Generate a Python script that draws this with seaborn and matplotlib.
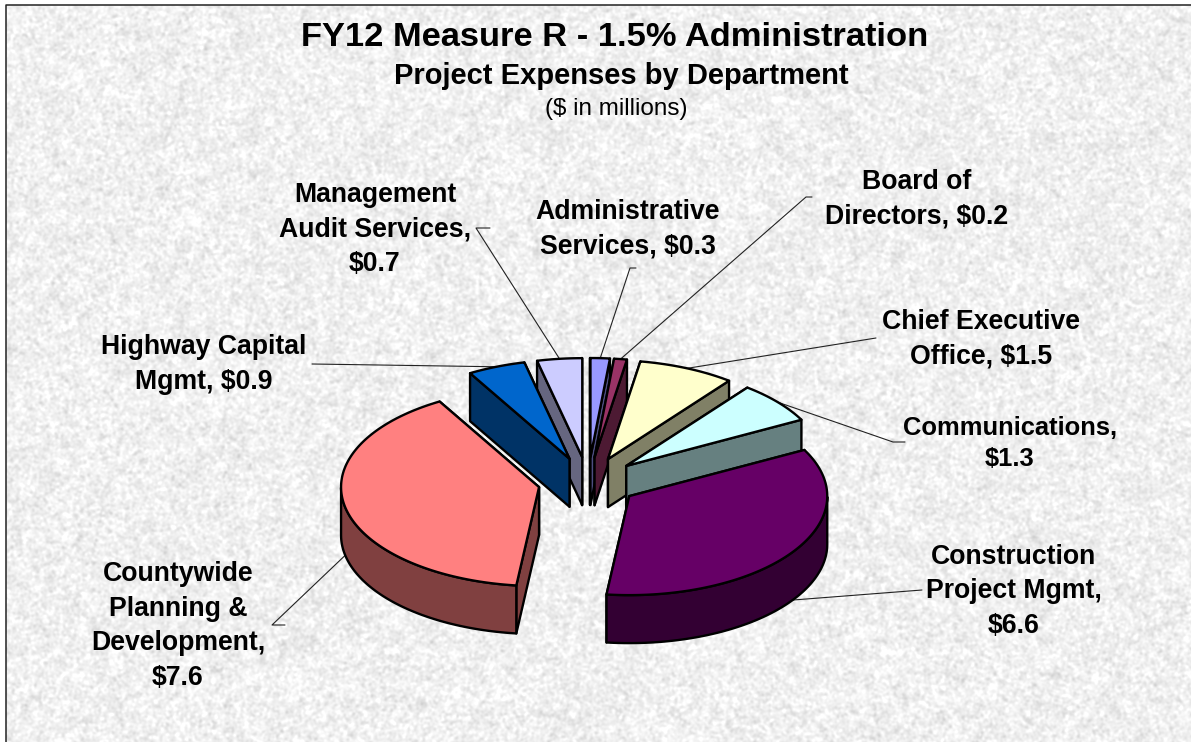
import numpy as np
import matplotlib
matplotlib.use("Agg")
import matplotlib.pyplot as plt
import seaborn as sns

# ---- data ----
departments = ["Administrative Services", "Board of Directors", "Chief Executive Office",
               "Communications", "Construction Project Mgmt",
               "Countywide Planning & Development", "Highway Capital Mgmt",
               "Management Audit Services"]
expenses = [0.3, 0.2, 1.5, 1.3, 6.6, 7.6, 0.9, 0.7]
labels = ["Administrative\nServices, $0.3", "Board of\nDirectors, $0.2",
          "Chief Executive\nOffice, $1.5", "Communications,\n$1.3",
          "Construction\nProject Mgmt,\n$6.6", "Countywide\nPlanning &\nDevelopment,\n$7.6",
          "Highway Capital\nMgmt, $0.9", "Management\nAudit Services,\n$0.7"]
colors = ["#9999FF", "#993366", "#FFFFCC", "#CCFFFF", "#660066", "#FF8080", "#0066CC", "#CCCCFF"]

# ---- layout ----
label_xy = [(628, 229.5), (917, 199.5), (981, 339.5), (1010, 443.5), (1014, 591.5), (178, 626), (204, 364.5), (375, 229.5)]
label_size = [19.2, 19.2, 19.2, 18.4, 19.2, 19.2, 19.2, 19.2]
leader_elbows = [[(636, 268), (630, 268)], [(812, 197), (806, 197)], [(876, 338)], [(905, 442), (893, 442)],
                 [(922, 590)], [(285, 625), (272, 625)], [(312, 364)], [(490, 228), (476, 228)]]
CX, CY, RX, RY, EXPLODE, DEPTH = 588, 482, 198, 99, 50, 48
EXPLODE_Y = 0.5

sns.set_theme(style="white")
plt.rcParams["font.family"] = ["Liberation Sans", "DejaVu Sans"]

fig = plt.figure(figsize=(11.91, 7.42), dpi=100, facecolor="white")
ax = fig.add_axes([0, 0, 1, 1])
ax.set_xlim(0, 1191)
ax.set_ylim(742, 0)
ax.axis("off")

# granite-like backdrop texture (decoration only, no data)
rng = np.random.default_rng(12)
h, w = 737, 1185


def smooth(sigma):
    fy = np.fft.fftfreq(h)[:, None]
    fx = np.fft.rfftfreq(w)[None, :]
    g = np.exp(-2 * (np.pi * sigma) ** 2 * (fx ** 2 + fy ** 2))
    a = np.fft.irfft2(np.fft.rfft2(rng.normal(size=(h, w))) * g, s=(h, w))
    return a / a.std()


tex = 240 + 7.5 * smooth(1.2) + 2.5 * smooth(4)
ax.imshow(np.clip(tex, 190, 255), cmap="gray", vmin=0, vmax=255, extent=(6, 1191, 742, 5),
          aspect="auto", zorder=0, interpolation="bilinear")
ax.set_xlim(0, 1191)
ax.set_ylim(742, 0)
ax.plot([6, 6, 1191], [742, 5, 5], color="#222222", lw=1.1, zorder=1)

# ---- pie geometry from the values ----
vals = np.array(expenses)
edges = np.concatenate([[0], np.cumsum(vals)]) / vals.sum() * 2 * np.pi
mids = (edges[:-1] + edges[1:]) / 2


def rim(i, t):
    ox = CX + EXPLODE * np.sin(mids[i])
    oy = CY - EXPLODE * EXPLODE_Y * np.cos(mids[i])
    return ox + RX * np.sin(t), oy - RY * np.cos(t)


# leader lines
for i in range(len(vals)):
    x, y = rim(i, mids[i])
    if np.cos(mids[i]) < 0:
        y = y + DEPTH
    pts = leader_elbows[i] + [(x, y)]
    ax.plot([p[0] for p in pts], [p[1] for p in pts], color="#222222", lw=0.8, zorder=2)

# wedges back to front
order = sorted(range(len(vals)), key=lambda i: -abs(mids[i] - np.pi))
LW = 1.7
for n, i in enumerate(order):
    z = 3 + n
    top = colors[i]
    side = tuple(c * 0.5 for c in matplotlib.colors.to_rgb(top))
    a0, a1 = edges[i], edges[i + 1]
    ts = np.linspace(a0, a1, 120)
    ax_, ay_ = rim(i, ts)
    tx = CX + EXPLODE * np.sin(mids[i])
    ty = CY - EXPLODE * EXPLODE_Y * np.cos(mids[i])
    faces = []
    for a in (a0, a1):
        ex, ey = rim(i, a)
        faces.append(((ey + ty) / 2, [tx, ex, ex, tx], [ty, ey, ey + DEPTH, ty + DEPTH]))
    for _, fx_, fy_ in sorted(faces, key=lambda f: f[0]):
        ax.fill(fx_, fy_, facecolor=side, edgecolor="black", lw=LW, joinstyle="round", zorder=z)
    vis = ts[(np.cos(ts) < 0)]
    if len(vis) > 1:
        vx, vy = rim(i, vis)
        ax.fill(np.r_[vx, vx[::-1]], np.r_[vy, vy[::-1] + DEPTH], facecolor=side,
                edgecolor="black", lw=LW, joinstyle="round", zorder=z)
    ax.fill(np.r_[tx, ax_], np.r_[ty, ay_], facecolor=top, edgecolor="black", lw=LW,
            joinstyle="round", zorder=z + 0.5)

# ---- text ----
for lab, (x, y), fs in zip(labels, label_xy, label_size):
    ax.text(x, y, lab, ha="center", va="center", multialignment="center", fontsize=fs,
            fontweight="bold", color="black", linespacing=1.42, zorder=30)
ax.text(615, 38, "FY12 Measure R - 1.5% Administration", ha="center", va="center",
        fontsize=24.8, fontweight="bold", color="black", zorder=30)
ax.text(621, 76, "Project Expenses by Department", ha="center", va="center",
        fontsize=21, fontweight="bold", color="black", zorder=30)
ax.text(616, 109.5, "($ in millions)", ha="center", va="center", fontsize=17.5, color="black", zorder=30)

fig.savefig("out.png", dpi=100, facecolor="white")
